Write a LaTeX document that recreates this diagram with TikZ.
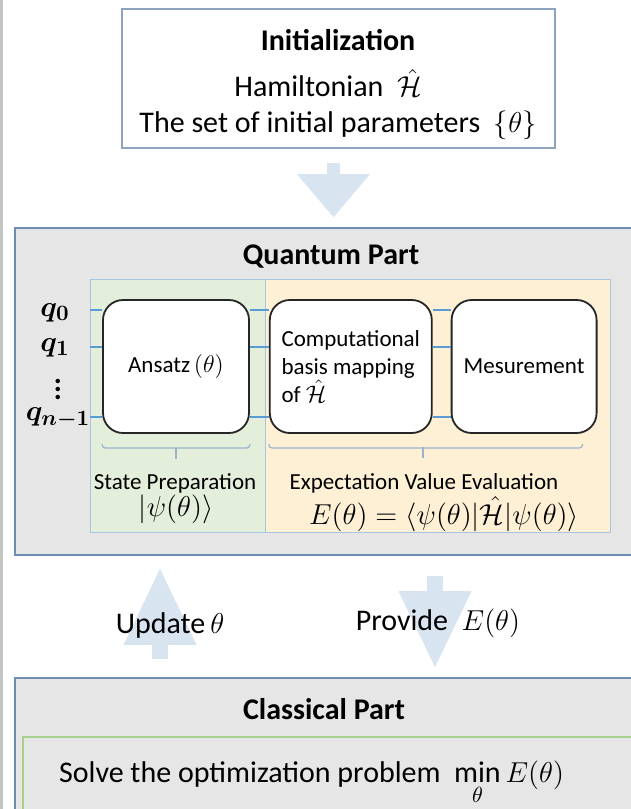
\documentclass[tikz,border=0pt]{standalone}
\usepackage{amsmath}
\usepackage{amssymb,bm}
\usepackage{fontspec}
\setmainfont{Carlito}
\usepackage{tikz}
\usetikzlibrary{arrows.meta,positioning,calc}
\definecolor{FrameBlue}{HTML}{6F8DB3}
\definecolor{InitBlue}{HTML}{8EA3BF}
\definecolor{PartGray}{HTML}{E6E6E6}
\definecolor{StateGreen}{HTML}{E3EFDB}
\definecolor{EvalOrange}{HTML}{FDF0D5}
\definecolor{RegionEdge}{HTML}{A7C4E0}
\definecolor{WireBlue}{HTML}{5B9BD5}
\definecolor{BraceBlue}{HTML}{9DB3CC}
\definecolor{ArrowBlue}{HTML}{D9E4F1}
\definecolor{SolveGreen}{HTML}{A9D18E}
\definecolor{GateLine}{HTML}{262626}
\definecolor{StripGray}{HTML}{C4C4C4}

\begin{document}
\begin{tikzpicture}[
    x=0.5pt, y=-0.5pt,
    font=\fontsize{15}{18}\selectfont,
    initbox/.style={rectangle, draw=InitBlue, fill=white, line width=0.6pt, minimum width=216.5pt, minimum height=69.5pt, inner sep=0pt},
    partbox/.style={rectangle, draw=FrameBlue, fill=PartGray, line width=0.8pt, minimum width=315pt, inner sep=0pt},
    region/.style={rectangle, draw=RegionEdge, line width=0.5pt, minimum height=126.5pt, inner sep=0pt},
    gate/.style={rectangle, rounded corners=10pt, draw=GateLine, fill=white, line width=0.9pt, minimum height=66.5pt, inner sep=2pt, align=center, font=\fontsize{11.5}{14}\selectfont},
    labeltext/.style={font=\fontsize{11.5}{14}\selectfont},
    heading/.style={font=\fontsize{15}{18}\selectfont\bfseries},
    qlabel/.style={inner sep=0pt},
    wire/.style={draw=WireBlue, line width=0.8pt},
    bracket/.style={draw=BraceBlue, line width=0.6pt, rounded corners=1.5pt},
    initflow/.style={draw=ArrowBlue, line width=6.5pt, -{Triangle[width=36.5pt, length=21.5pt, line width=0pt]}},
    loopflow/.style={draw=ArrowBlue, line width=8pt, -{Triangle[width=36.5pt, length=38pt, line width=0pt]}}
]
\useasboundingbox (0,0) rectangle (631,809);
\clip (0,0) rectangle (631,809);
\fill[StripGray] (0,0) rectangle (2.5,809);

% initialization
\node[initbox] (init) at (338.5,78.5) {};
\node[heading] (inittitle) at (338,40) {Initialization};
\node (hamil) at (328,83) {Hamiltonian \ $\hat{\mathcal{H}}$};
\node (params) at (338,125) {The set of initial parameters \ $\{\theta\}$};

% quantum part
\node[partbox, minimum height=163.5pt] (quantum) at (330,391.5) {};
\node[heading] (qtitle) at (331,257) {Quantum Part};
\node[region, fill=StateGreen, minimum width=87.5pt] (prep) at (177.5,405.5) {};
\node[region, fill=EvalOrange, minimum width=172.5pt] (eval) at (437.5,405.5) {};

\node[gate, minimum width=73pt] (ansatz) at (176,366.5) {Ansatz\,$(\theta)$};
\node[gate, minimum width=81pt, align=left, right=9.5pt of ansatz] (comp) {Computational\\basis mapping\\of $\hat{\mathcal{H}}$};
\node[gate, minimum width=72.5pt, right=9pt of comp] (meas) {Mesurement};

\node[qlabel] (q0) at (55,313) {$\bm{q_0}$};
\node[qlabel] (q1) at (55,348) {$\bm{q_1}$};
\node[qlabel] (qdots) at (58,383) {$\bm{\vdots}$};
\node[qlabel] (qn) at (58,418) {$\bm{q_{n-1}}$};

\foreach \w/\y in {0/310, 1/347, 2/417} {
    \coordinate (w\w) at (90,\y);
    \draw[wire] (w\w) -- (w\w -| ansatz.west);
    \draw[wire] (w\w -| ansatz.east) -- (w\w -| comp.west);
    \draw[wire] (w\w -| comp.east) -- (w\w -| meas.west);
}

\draw[bracket] ([yshift=-5pt]ansatz.south west) -- ([yshift=-7pt]ansatz.south west) -- ([yshift=-7pt]ansatz.south east) -- ([yshift=-5pt]ansatz.south east);
\draw[bracket] ([yshift=-7pt]ansatz.south) -- ([yshift=-12.5pt]ansatz.south);
\draw[bracket] ([yshift=-5pt]comp.south west) -- ([yshift=-7pt]comp.south west) -- ([shift={(-7.5pt,-7pt)}]meas.south east) -- ([shift={(-7.5pt,-5pt)}]meas.south east);
\draw[bracket] (423,447) -- (423,458);

\node[labeltext] (preplabel) at (175,483) {State Preparation};
\node (psi) at (176,509) {$|\psi(\theta)\rangle$};
\node[labeltext] (evallabel) at (424,483) {Expectation Value Evaluation};
\node[font=\fontsize{13.5}{16}\selectfont] (energy) at (444,514) {$E(\theta)=\langle\psi(\theta)|\hat{\mathcal{H}}|\psi(\theta)\rangle$};

% classical part
\node[partbox, minimum height=71pt] (classical) at (330,749) {};
\node[heading] (ctitle) at (324,709) {Classical Part};
\node[rectangle, draw=SolveGreen, fill=PartGray, line width=0.6pt, minimum width=311pt, minimum height=41.5pt] (solve) at (334,778.5) {};
\node[anchor=base west] (solvetext) at (52,782) {Solve the optimization problem \ $\min\limits_{\theta} E(\theta)$};

% flow arrows
\draw[initflow, shorten <=7pt, shorten >=5pt] ([xshift=-2.5pt]init.south) -- ([xshift=-2.5pt]init.south |- quantum.north);
\draw[loopflow, shorten <=9pt, shorten >=6.5pt] ([xshift=-85pt]classical.north) -- ([xshift=-85pt]quantum.south);
\draw[loopflow, shorten <=10pt, shorten >=5pt] ([xshift=52.5pt]quantum.south) -- ([xshift=52.5pt]classical.north);

\node (update) at (170,625) {Update\,$\theta$};
\node (provide) at (438,623) {Provide \ $E(\theta)$};
\end{tikzpicture}
\end{document}
